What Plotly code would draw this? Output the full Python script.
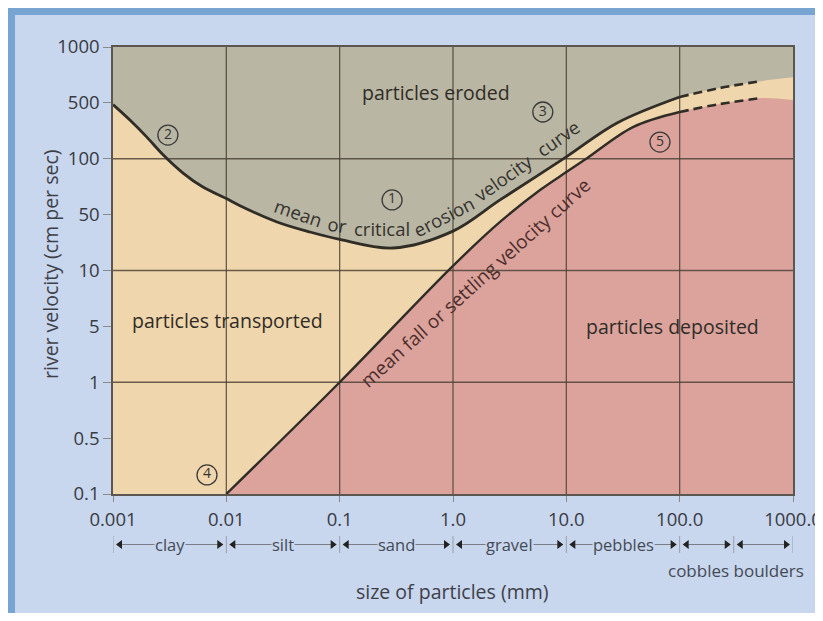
import math
import plotly.graph_objects as go

# ---------------- data ----------------
# mean / critical erosion velocity curve (solid part)
erosion_size = [0.001, 0.00141, 0.00198, 0.00278, 0.00415, 0.00622, 0.01, 0.0132, 0.028, 0.0547,
                0.1, 0.296, 1.0, 2.6, 10, 28, 100]
erosion_vel = [305, 222, 157, 108, 74.5, 55.8, 44, 38, 27.2, 22.1,
               19.0, 15.9, 22.5, 42.8, 104, 209, 357]
# dashed (extrapolated) part of the erosion curve
erosion_dash_size = [100, 227, 533]
erosion_dash_vel = [357, 430, 497]
# where the eroded / transported boundary meets the right edge
erosion_edge_size = [1000]
erosion_edge_vel = [536]

# mean fall / settling velocity curve (solid part)
settling_size = [0.01, 0.1, 1.0, 2.6, 5.86, 10, 15.2, 38.7, 100]
settling_vel = [0.1, 1, 11, 27.2, 52.5, 76, 101, 192, 262]
settling_dash_size = [100, 227, 533]
settling_dash_vel = [262, 309, 350]
settling_edge_size = [1000]
settling_edge_vel = [335]

# axis ticks
x_tickvals = [0.001, 0.01, 0.1, 1, 10, 100, 1000]
x_ticktext = ["0.001", "0.01", "0.1", "1.0", "10.0", "100.0", "1000.0"]
y_tickvals = [0.1, 10 ** -0.5, 1, 10 ** 0.5, 10, 10 ** 1.5, 100, 10 ** 2.5, 1000]
y_ticktext = ["0.1", "0.5", "1", "5", "10", "50", "100", "500", "1000"]
x_gridvals = [0.01, 0.1, 1, 10, 100]
y_gridvals = [1, 10, 100]

# particle size classes
class_bounds = [0.001, 0.01, 0.1, 1, 10, 100, 300, 1000]
class_names = ["clay", "silt", "sand", "gravel", "pebbles", "", ""]

# circled numbers (size mm, velocity cm/s, label)
num_size = [0.29, 0.00305, 6.2, 0.00675, 67]
num_vel = [42.8, 163, 262, 0.148, 141]
num_text = ["1", "2", "3", "4", "5"]

# ---------------- layout helpers ----------------
OFF = 8                              # page body margin of the browser
W, H = 823 - OFF, 621 - 2 * OFF      # keep the page inside the window
PLOT_L, PLOT_R, PLOT_T, PLOT_B = 113, 793, 47, 494   # plot area in the reference picture
BAR_T, BAR_B = 536, 553                              # size-class bar in the reference picture
ML = PLOT_L - OFF
MR = W - (PLOT_R - OFF)
MT = PLOT_T - OFF
BOTTOM = 556 - OFF
MB = H - BOTTOM
PW = W - ML - MR
PH = BOTTOM - MT


def P(px, py):
    """reference-picture pixel -> paper coordinates"""
    return (px - OFF - ML) / PW, (BOTTOM - (py - OFF)) / PH


FONT = "Open Sans"
GRAY = "#b9b6a3"
TAN = "#f0d6ac"
PINK = "#dba39c"
BG = "#c8d6ee"
FRAME = "#78a4d2"
INK = "#302d27"
TEXT = "#2f2c27"
GRID = "rgba(70,60,50,0.8)"

fig = go.Figure()

# tan background of the plot area
fig.add_trace(go.Scatter(x=[0.001, 1000, 1000, 0.001, 0.001], y=[0.1, 0.1, 1000, 1000, 0.1],
                         fill="toself", fillcolor=TAN, mode="lines", line=dict(width=0),
                         hoverinfo="skip", showlegend=False))
# eroded region (above erosion curve)
fig.add_trace(go.Scatter(x=[0.001, 1000], y=[1000, 1000], mode="lines", line=dict(width=0),
                         hoverinfo="skip", showlegend=False))
fig.add_trace(go.Scatter(x=erosion_size + erosion_dash_size[1:] + erosion_edge_size,
                         y=erosion_vel + erosion_dash_vel[1:] + erosion_edge_vel,
                         fill="tonexty", fillcolor=GRAY, mode="lines",
                         line=dict(width=0, shape="spline"), hoverinfo="skip", showlegend=False))
# deposited region (below settling curve)
fig.add_trace(go.Scatter(x=[0.01, 1000], y=[0.1, 0.1], mode="lines", line=dict(width=0),
                         hoverinfo="skip", showlegend=False))
fig.add_trace(go.Scatter(x=settling_size + settling_dash_size[1:] + settling_edge_size,
                         y=settling_vel + settling_dash_vel[1:] + settling_edge_vel,
                         fill="tonexty", fillcolor=PINK, mode="lines",
                         line=dict(width=0, shape="spline"), hoverinfo="skip", showlegend=False))

# grid lines drawn over the fills
gx, gy = [], []
for v in x_gridvals:
    gx += [v, v, None]
    gy += [0.1, 1000, None]
for v in y_gridvals:
    gx += [0.001, 1000, None]
    gy += [v, v, None]
fig.add_trace(go.Scatter(x=gx, y=gy, mode="lines", line=dict(color=GRID, width=1.3),
                         hoverinfo="skip", showlegend=False))

# curves
fig.add_trace(go.Scatter(x=erosion_size, y=erosion_vel, mode="lines",
                         line=dict(color=INK, width=2.8, shape="spline"), showlegend=False))
fig.add_trace(go.Scatter(x=erosion_dash_size, y=erosion_dash_vel, mode="lines",
                         line=dict(color=INK, width=2.6, shape="spline", dash="9px,5px"),
                         showlegend=False))
fig.add_trace(go.Scatter(x=settling_size, y=settling_vel, mode="lines",
                         line=dict(color=INK, width=2.4, shape="spline"), showlegend=False))
fig.add_trace(go.Scatter(x=settling_dash_size, y=settling_dash_vel, mode="lines",
                         line=dict(color=INK, width=2.6, shape="spline", dash="9px,5px"),
                         showlegend=False))

# circled numbers
fig.add_trace(go.Scatter(x=num_size, y=num_vel, mode="markers+text", text=num_text,
                         textposition="middle center",
                         textfont=dict(family=FONT, size=14, color="#333"),
                         marker=dict(symbol="circle-open", size=20, color="#3a3a3a",
                                     line=dict(width=1.3, color="#3a3a3a")),
                         showlegend=False))

# ---------------- size class bar (second subplot) ----------------
f = 10 ** (7 / (PW / 6))
tx, ty = [], []
for b in class_bounds:
    tx += [b, b, None]
    ty += [0, 1, None]
fig.add_trace(go.Scatter(x=tx, y=ty, mode="lines", line=dict(color="#9a9ea8", width=1),
                         xaxis="x2", yaxis="y2", hoverinfo="skip", showlegend=False))
lx, ly = [], []
for a, b in zip(class_bounds[:-1], class_bounds[1:]):
    lx += [a * f, b / f, None]
    ly += [0.5, 0.5, None]
fig.add_trace(go.Scatter(x=lx, y=ly, mode="lines", line=dict(color="#7a7d85", width=1),
                         xaxis="x2", yaxis="y2", hoverinfo="skip", showlegend=False))
fig.add_trace(go.Scatter(x=[b * f for b in class_bounds[:-1]], y=[0.5] * (len(class_bounds) - 1),
                         mode="markers", marker=dict(symbol="triangle-left", size=8, color="#222"),
                         xaxis="x2", yaxis="y2", hoverinfo="skip", showlegend=False))
fig.add_trace(go.Scatter(x=[b / f for b in class_bounds[1:]], y=[0.5] * (len(class_bounds) - 1),
                         mode="markers", marker=dict(symbol="triangle-right", size=8, color="#222"),
                         xaxis="x2", yaxis="y2", hoverinfo="skip", showlegend=False))

annotations = []
for a, b, name in zip(class_bounds[:-1], class_bounds[1:], class_names):
    if name:
        annotations.append(dict(xref="x2", yref="y2", x=math.log10(math.sqrt(a * b)), y=0.5,
                                text=name, showarrow=False, bgcolor=BG, borderpad=0,
                                font=dict(family=FONT, size=16.5, color="#444a55")))


def label(text, px, py, size=19.5, color=TEXT, angle=0):
    x, y = P(px, py)
    annotations.append(dict(xref="paper", yref="paper", x=x, y=y, text=text, showarrow=False,
                            textangle=angle, xanchor="center", yanchor="middle",
                            font=dict(family=FONT, size=size, color=color)))


label("particles eroded", 436, 92)
label("particles transported", 227, 320)
label("particles deposited", 672, 327)
for word, px, py, ang in [("mean", 298, 212, 19), ("or", 337, 224, 9), ("critical", 382, 229, 0),
                          ("erosion", 443, 216, -27), ("velocity", 503, 177, -35),
                          ("curve", 557, 138, -35)]:
    label(word, px, py, size=18.5, color="#34322d", angle=ang)
label("mean fall or settling velocity curve", 475, 283, size=19, color="#4e2e2b", angle=-42)
label("cobbles boulders", 736, 570, size=17, color="#444a55")
label("size of particles (mm)", 452, 591, size=19.5, color="#3e4048")
label("river velocity (cm per sec)", 50, 265, size=19.5, color="#3e4048", angle=-90)

# ---------------- frame shapes ----------------
shapes = []


def rect(px0, py0, px1, py1, color):
    x0, y0 = P(px0, py0)
    x1, y1 = P(px1, py1)
    shapes.append(dict(type="rect", xref="paper", yref="paper", x0=x0, y0=y0, x1=x1, y1=y1,
                       fillcolor=color, line=dict(width=0), layer="below"))


rect(7, 7, 840, 15, FRAME)
rect(7, 7, 15, 640, FRAME)

axis_line = dict(showline=True, mirror=True, linecolor="#5b5650", linewidth=1.5)
fig.update_layout(
    width=W, height=H,
    margin=dict(l=ML, r=MR, t=MT, b=MB, autoexpand=False),
    paper_bgcolor=BG, plot_bgcolor=BG,
    showlegend=False,
    font=dict(family=FONT, color="#3c3c3c"),
    xaxis=dict(type="log", range=[-3, 3], showgrid=False, zeroline=False, automargin=False,
               tickvals=x_tickvals, ticktext=x_ticktext, ticks="outside", ticklen=6,
               tickcolor="#8a8a8a", tickwidth=1, ticklabelstandoff=2,
               tickfont=dict(family=FONT, size=18.5, color="#383b42"),
               anchor="y", **axis_line),
    yaxis=dict(type="log", range=[-1, 3], domain=[(BOTTOM - (PLOT_B - OFF)) / PH, 1],
               showgrid=False, zeroline=False, automargin=False,
               tickvals=y_tickvals, ticktext=y_ticktext,
               ticks="outside", ticklen=8, tickcolor="#8a8a8a", tickwidth=1,
               tickfont=dict(family=FONT, size=18.5, color="#383b42"),
               anchor="x", **axis_line),
    xaxis2=dict(type="log", matches="x", visible=False, anchor="y2"),
    yaxis2=dict(range=[0, 1], domain=[(BOTTOM - (BAR_B - OFF)) / PH, (BOTTOM - (BAR_T - OFF)) / PH],
                visible=False, anchor="x2"),
    annotations=annotations,
    shapes=shapes,
)

fig.write_html("out.html")
